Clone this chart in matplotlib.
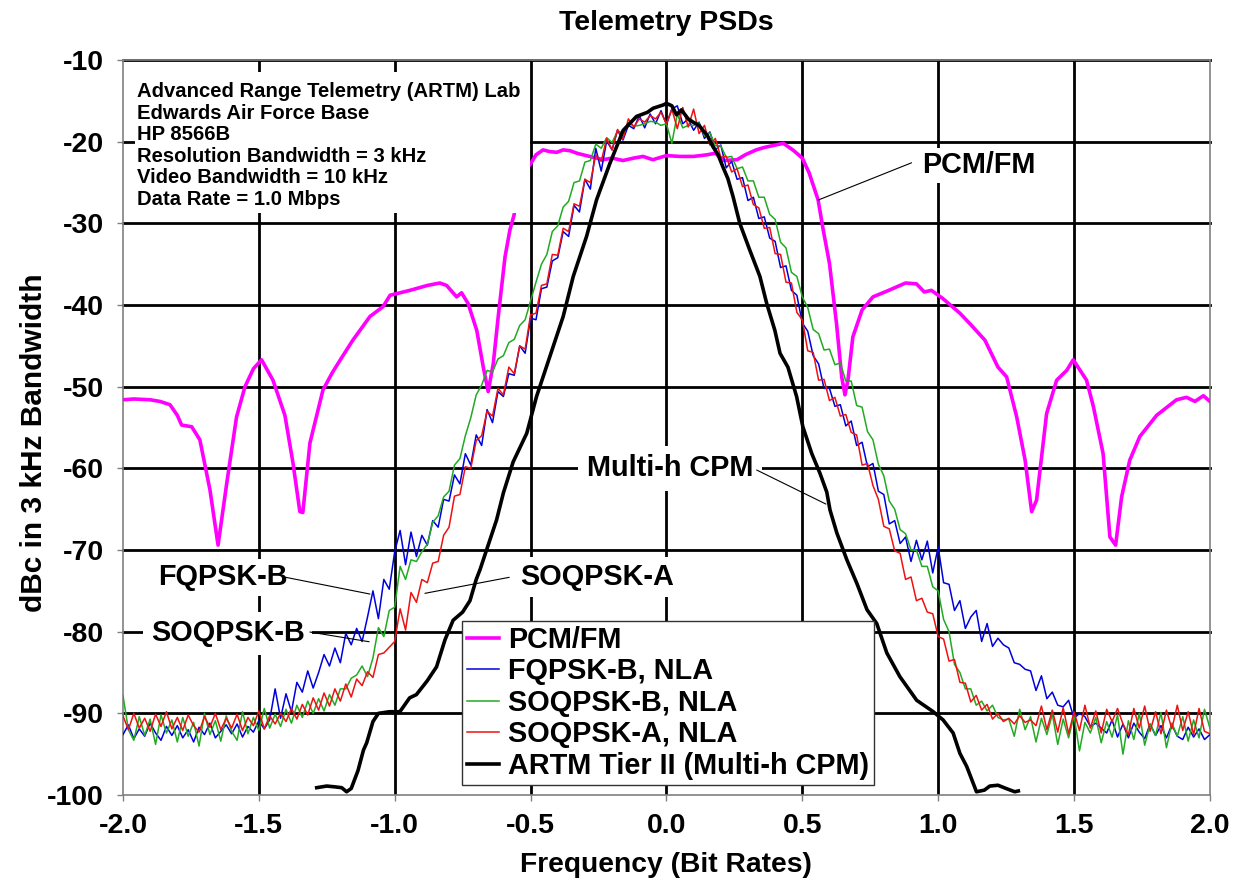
import numpy as np
import matplotlib
matplotlib.use('Agg')
import matplotlib.pyplot as plt
from matplotlib.ticker import FormatStrFormatter
from matplotlib.patches import Rectangle

plt.rcParams['font.family'] = ['Liberation Sans', 'DejaVu Sans']
plt.rcParams['font.weight'] = 'bold'
plt.rcParams['axes.unicode_minus'] = False

# ---------------- data ----------------
x_ticks = [-2.0, -1.5, -1.0, -0.5, 0.0, 0.5, 1.0, 1.5, 2.0]
y_ticks = [-100, -90, -80, -70, -60, -50, -40, -30, -20, -10]

# PCM/FM (measured trace, non-uniform sample points)
pcm_x = [-2.000, -1.960, -1.900, -1.864, -1.827, -1.800, -1.784, -1.747, -1.717, -1.680,
         -1.650, -1.618, -1.582, -1.551, -1.520, -1.490, -1.448, -1.404, -1.374, -1.349,
         -1.338, -1.312, -1.264, -1.230, -1.200, -1.154, -1.091, -1.043, -1.017, -0.944,
         -0.880, -0.834, -0.809, -0.772, -0.754, -0.730, -0.698, -0.674, -0.656, -0.637,
         -0.619, -0.594, -0.576, -0.561, -0.540, -0.520, -0.499, -0.480, -0.454, -0.430,
         -0.404, -0.380, -0.355, -0.330, -0.307, -0.270, -0.233, -0.200, -0.160, -0.120,
         -0.086, -0.050, 0.000, 0.050, 0.100, 0.150, 0.180, 0.210, 0.260, 0.290,
         0.330, 0.360, 0.430, 0.465, 0.500, 0.525, 0.558, 0.577, 0.600, 0.626,
         0.645, 0.657, 0.668, 0.686, 0.720, 0.760, 0.811, 0.880, 0.920, 0.949,
         0.975, 1.017, 1.080, 1.120, 1.172, 1.220, 1.252, 1.289, 1.320, 1.344,
         1.362, 1.399, 1.436, 1.473, 1.497, 1.546, 1.571, 1.607, 1.632, 1.653,
         1.675, 1.705, 1.742, 1.804, 1.877, 1.914, 1.945, 1.976, 2.000]
pcm_y = [-51.6, -51.5, -51.6, -51.8, -52.2, -53.5, -54.7, -54.9, -56.5, -62.6,
         -69.4, -61.8, -53.7, -50.0, -47.8, -46.7, -49.2, -53.5, -59.4, -65.3,
         -65.4, -56.9, -50.4, -48.3, -46.7, -44.3, -41.4, -40.2, -38.8, -38.2,
         -37.6, -37.3, -37.6, -39.0, -38.5, -39.8, -43.1, -47.6, -50.6, -47.1,
         -41.4, -34.1, -30.8, -29.0, -25.5, -23.5, -22.65, -21.6, -21.0, -21.2,
         -21.3, -21.0, -21.1, -21.4, -21.6, -21.9, -22.2, -22.0, -22.3, -22.0,
         -21.8, -22.2, -21.7, -21.8, -21.8, -21.6, -21.4, -22.3, -22.2, -21.6,
         -21.0, -20.7, -20.2, -21.0, -22.0, -23.8, -27.1, -30.8, -34.9, -42.3,
         -48.8, -51.0, -49.2, -43.9, -40.6, -39.0, -38.3, -37.3, -37.4, -38.4,
         -38.2, -39.2, -41.0, -42.4, -44.3, -47.6, -48.8, -53.7, -59.0, -65.3,
         -63.9, -53.3, -49.2, -48.0, -46.7, -49.2, -52.4, -58.2, -68.4, -69.4,
         -63.5, -59.0, -56.1, -53.5, -51.6, -51.3, -51.8, -51.1, -51.8]

# Noisy QPSK-type traces sampled every 0.02 bit rates from -2.0 to 2.0
freq = np.round(np.linspace(-2.0, 2.0, 201), 2)

fqpsk_b = [
    -92.6, -91.4, -93.1, -91.9, -92.8, -91.2, -92.4, -93.3, -91.6, -92.7,
    -91.5, -93.0, -92.0, -93.5, -91.7, -92.6, -91.2, -93.0, -92.2, -91.4,
    -92.5, -91.3, -92.9, -91.6, -92.3, -90.9, -91.9, -90.8, -87.0, -90.6,
    -87.6, -89.8, -86.2, -87.4, -84.8, -86.9, -85.0, -82.8, -84.2, -82.0,
    -83.8, -80.2, -81.6, -79.6, -81.2, -78.2, -75.0, -78.4, -73.6, -74.8,
    -70.2, -67.6, -71.8, -67.8, -70.8, -68.2, -69.4, -66.4, -67.2, -63.8,
    -64.0, -60.8, -61.9, -58.2, -59.6, -55.9, -57.2, -52.8, -54.4, -50.6,
    -51.2, -48.4, -48.6, -45.0, -45.9, -41.6, -41.8, -38.0, -37.8, -34.6,
    -34.2, -31.0, -31.6, -27.8, -28.6, -24.6, -25.8, -20.8, -23.6, -19.9,
    -21.0, -18.6, -19.8, -18.0, -18.4, -16.8, -18.3, -16.6, -17.8, -16.2,
    -17.9, -16.0, -15.6, -17.8, -17.2, -18.6, -17.6, -19.6, -18.8, -21.0,
    -20.4, -23.2, -22.4, -24.6, -24.4, -27.2, -26.8, -29.4, -29.2, -31.8,
    -32.2, -35.4, -35.2, -38.2, -38.8, -42.2, -43.2, -46.2, -47.2, -50.2,
    -50.2, -52.4, -52.2, -54.8, -54.2, -57.2, -56.8, -59.8, -59.4, -62.8,
    -63.2, -66.8, -66.4, -69.2, -68.4, -71.4, -68.8, -71.2, -68.9, -72.8,
    -69.6, -74.0, -74.2, -77.4, -76.2, -79.6, -78.2, -77.4, -81.2, -79.0,
    -81.8, -80.8, -81.6, -82.0, -83.8, -84.0, -84.6, -84.8, -87.2, -85.4,
    -88.2, -87.4, -89.0, -89.2, -88.4, -90.6, -90.0, -90.4, -91.6, -91.2,
    -91.8, -92.4, -90.8, -92.9, -91.3, -93.0, -91.2, -92.3, -93.1, -91.3,
    -92.7, -91.5, -93.0, -91.4, -92.8, -93.2, -91.7, -92.9, -91.9, -93.2,
    -92.6]

soqpsk_b = [
    -87.8, -92.0, -93.3, -90.4, -92.7, -90.7, -93.8, -90.2, -92.4, -90.8,
    -93.5, -90.5, -92.8, -91.1, -94.0, -90.0, -92.6, -90.9, -93.4, -90.3,
    -92.2, -93.3, -89.8, -92.5, -90.5, -92.1, -89.4, -91.8, -90.1, -91.6,
    -89.5, -91.2, -89.0, -90.5, -88.5, -90.0, -88.2, -89.7, -87.7, -89.0,
    -87.0, -87.0, -85.7, -85.3, -84.2, -85.5, -83.2, -79.5, -80.6, -77.4,
    -77.0, -72.0, -73.6, -71.2, -71.4, -70.2, -69.3, -66.6, -65.8, -63.5,
    -62.8, -59.6, -58.8, -56.0, -53.8, -51.0, -49.8, -48.0, -48.2, -46.6,
    -46.2, -44.6, -44.2, -42.5, -41.8, -39.5, -37.2, -35.0, -33.8, -31.0,
    -30.3, -28.0, -27.3, -25.0, -24.8, -22.5, -22.3, -20.3, -20.8, -19.5,
    -20.1, -18.7, -18.9, -17.7, -18.1, -18.0, -17.8, -17.5, -17.6, -18.0,
    -17.8, -20.2, -16.6, -18.3, -18.0, -18.0, -17.7, -19.3, -18.9, -20.5,
    -20.5, -21.9, -21.8, -23.3, -23.1, -24.8, -24.8, -26.8, -26.8, -28.9,
    -29.5, -32.3, -33.0, -36.0, -36.5, -39.0, -40.3, -43.0, -43.5, -45.5,
    -45.4, -47.3, -47.1, -49.3, -49.3, -52.3, -52.5, -55.5, -56.5, -59.5,
    -60.9, -64.0, -65.0, -67.5, -68.0, -70.0, -70.0, -72.0, -72.0, -74.5,
    -75.0, -78.5, -80.0, -84.0, -85.0, -87.0, -87.0, -89.0, -88.5, -89.7,
    -89.0, -90.5, -90.8, -90.7, -92.8, -89.5, -92.0, -90.4, -93.5, -90.6,
    -92.6, -90.1, -93.8, -90.7, -93.0, -90.3, -94.6, -91.1, -92.4, -90.5,
    -93.6, -91.0, -92.9, -90.2, -95.0, -90.9, -93.2, -90.0, -93.9, -91.3,
    -92.7, -89.9, -94.2, -91.2, -92.8, -90.4, -93.4, -90.8, -93.0, -89.5,
    -91.8]

soqpsk_a = [
    -90.3, -92.0, -90.0, -91.8, -90.6, -92.2, -90.1, -91.6, -89.8, -91.9,
    -90.5, -92.1, -90.2, -91.5, -92.3, -90.4, -91.7, -90.0, -92.0, -90.6,
    -91.8, -90.1, -92.1, -90.5, -91.5, -89.7, -91.9, -90.3, -91.3, -90.0,
    -91.0, -89.4, -90.7, -88.9, -90.2, -88.1, -89.6, -87.5, -89.1, -87.0,
    -88.5, -86.4, -88.0, -85.8, -86.6, -84.9, -85.6, -82.8, -82.6, -81.9,
    -81.2, -77.2, -79.8, -75.2, -76.4, -73.6, -74.0, -71.6, -71.4, -68.2,
    -67.2, -63.4, -63.2, -59.8, -60.0, -56.6, -56.0, -53.0, -53.6, -50.2,
    -51.0, -47.6, -48.4, -45.0, -45.4, -41.2, -41.0, -37.6, -37.4, -33.8,
    -33.9, -30.6, -31.0, -27.6, -27.9, -24.6, -25.0, -21.6, -22.4, -19.6,
    -21.0, -18.5, -19.7, -17.2, -18.2, -17.2, -17.6, -16.8, -17.2, -16.4,
    -17.8, -16.0, -18.4, -15.8, -18.2, -16.0, -19.0, -18.0, -20.4, -19.6,
    -21.9, -21.8, -23.7, -23.3, -25.5, -25.3, -27.7, -28.1, -30.6, -30.5,
    -33.7, -33.8, -37.2, -37.3, -40.9, -41.8, -45.6, -45.8, -49.2, -49.1,
    -51.7, -51.3, -53.6, -53.4, -55.6, -55.9, -59.6, -59.4, -62.1, -63.8,
    -67.1, -67.4, -70.1, -70.4, -73.6, -73.3, -76.2, -75.9, -77.6, -77.8,
    -80.6, -80.9, -83.6, -83.4, -86.2, -86.3, -88.6, -87.8, -89.6, -88.9,
    -90.7, -90.0, -91.0, -90.6, -91.3, -90.3, -91.1, -90.8, -91.5, -89.1,
    -92.0, -89.6, -92.3, -89.3, -92.5, -89.8, -92.1, -89.0, -91.8, -89.7,
    -92.4, -89.5, -91.0, -89.4, -91.3, -92.6, -89.4, -91.8, -89.1, -92.2,
    -89.8, -92.5, -89.6, -91.9, -89.0, -92.1, -89.8, -92.6, -89.4, -92.2,
    -92.5]

# ARTM Tier II (Multi-h CPM)
cpm_x = [-1.287, -1.250, -1.220, -1.195, -1.177, -1.160, -1.135, -1.115, -1.103, -1.080,
         -1.060, -1.020, -0.981, -0.945, -0.920, -0.880, -0.846, -0.815, -0.785, -0.750,
         -0.723, -0.700, -0.686, -0.662, -0.625, -0.600, -0.564, -0.514, -0.478, -0.429,
         -0.380, -0.343, -0.294, -0.257, -0.208, -0.159, -0.110, -0.070, -0.049, -0.012,
         0.000, 0.020, 0.037, 0.055, 0.080, 0.098, 0.120, 0.134, 0.150, 0.171,
         0.190, 0.208, 0.226, 0.245, 0.270, 0.307, 0.344, 0.369, 0.399, 0.418,
         0.447, 0.479, 0.502, 0.535, 0.565, 0.590, 0.602, 0.627, 0.664, 0.701,
         0.738, 0.774, 0.811, 0.859, 0.921, 0.982, 1.018, 1.055, 1.080, 1.105,
         1.141, 1.170, 1.190, 1.220, 1.250, 1.282, 1.295]
cpm_y = [-99.1, -98.9, -99.0, -99.1, -99.6, -99.2, -97.0, -94.5, -93.6, -91.0,
         -90.0, -89.8, -89.8, -88.1, -87.7, -86.0, -84.3, -81.0, -78.6, -77.6,
         -76.2, -73.6, -72.4, -70.0, -66.3, -63.0, -59.2, -55.7, -51.2, -46.3,
         -41.4, -36.5, -31.6, -27.1, -22.65, -18.6, -16.9, -16.4, -15.9, -15.5,
         -15.3, -15.6, -16.7, -16.1, -17.2, -17.6, -18.0, -18.6, -19.2, -20.6,
         -21.6, -23.1, -24.5, -26.7, -30.0, -33.3, -36.5, -39.8, -43.1, -45.9,
         -47.6, -51.2, -54.9, -58.2, -60.6, -62.9, -65.1, -67.9, -71.2, -74.1,
         -77.3, -79.0, -82.6, -85.5, -88.4, -89.8, -90.8, -92.4, -94.9, -96.5,
         -99.6, -99.4, -98.9, -98.8, -99.2, -99.6, -99.5]

series_labels = ['PCM/FM', 'FQPSK-B, NLA', 'SOQPSK-B, NLA', 'SOQPSK-A, NLA',
                 'ARTM Tier II (Multi-h CPM)']
info_lines = ['Advanced Range Telemetry (ARTM) Lab', 'Edwards Air Force Base', 'HP 8566B',
              'Resolution Bandwidth = 3 kHz', 'Video Bandwidth = 10 kHz', 'Data Rate = 1.0 Mbps']

# ---------------- figure ----------------
fig = plt.figure(figsize=(12.37, 8.82), dpi=100)
ax = fig.add_axes([0.0994, 0.0986, 0.8787, 0.8333])
ax.set_xlim(-2.0, 2.0)
ax.set_ylim(-100, -10)

# grid (Excel style: interior lines + top line)
for yv in y_ticks[1:]:
    ax.axhline(yv, color='black', lw=2.0, zorder=1, clip_on=False)
for xv in x_ticks[1:-1]:
    ax.axvline(xv, color='black', lw=2.0, zorder=1)

ax.plot(pcm_x, pcm_y, color='#FF00FF', lw=2.6, zorder=3, label=series_labels[0],
        solid_joinstyle='round')
ax.plot(freq, fqpsk_b, color='#0000DD', lw=1.1, zorder=4, label=series_labels[1])
ax.plot(freq, soqpsk_b, color='#22AA22', lw=1.1, zorder=5, label=series_labels[2])
ax.plot(freq, soqpsk_a, color='#EE1111', lw=1.1, zorder=6, label=series_labels[3])
ax.plot(cpm_x, cpm_y, color='black', lw=2.6, zorder=7, label=series_labels[4],
        solid_joinstyle='round')

ax.set_xticks(x_ticks)
ax.set_yticks(y_ticks)
ax.xaxis.set_major_formatter(FormatStrFormatter('%.1f'))
ax.tick_params(direction='out', length=4, width=1, color='#808080', labelsize=20.5)
ax.tick_params(axis='x', pad=9)
ax.tick_params(axis='y', pad=10)
for lab in ax.get_xticklabels() + ax.get_yticklabels():
    lab.set_fontweight('bold')
for sp in ax.spines.values():
    sp.set_color('#808080')
    sp.set_linewidth(1.2)
    sp.set_zorder(2)

ax.set_title('Telemetry PSDs', fontsize=20.5, fontweight='bold', pad=22)
ax.set_xlabel('Frequency (Bit Rates)', fontsize=20.3, fontweight='bold', labelpad=9)
ax.set_ylabel('dBc in 3 kHz Bandwidth', fontsize=21.5, fontweight='bold')
ax.yaxis.set_label_coords(-0.069, 0.48)

# info box (white, covers grid and part of the PCM/FM trace)
ax.add_patch(Rectangle((-1.956, -28.73), 1.454, 17.26, facecolor='white',
                       edgecolor='none', zorder=8))
ax.text(-1.948, -20.47, '\n'.join(info_lines), fontsize=14.6, fontweight='bold',
        ha='left', va='center', linespacing=1.17, zorder=9)

# callout labels: text, position, leader start, leader end, box pad
labels = [
    ('PCM/FM', (0.940, -22.86), (0.902, -22.58), (0.5586, -27.14), 0.12),
    ('Multi-h CPM', (-0.2937, -60.0), (0.332, -60.2), (0.587, -64.37), 0.3),
    ('SOQPSK-A', (-0.539, -73.27), (-0.5785, -73.34), (-0.8887, -75.3), 0.2),
    ('FQPSK-B', (-1.870, -73.34), (-1.401, -73.34), (-1.091, -75.39), 0.15),
    ('SOQPSK-B', (-1.898, -80.2), (-1.312, -80.04), (-1.094, -81.23), 0.25),
]
for txt, tpos, lstart, lend, pad in labels:
    ax.text(tpos[0], tpos[1], txt, fontsize=20.8, fontweight='bold', ha='left',
            va='center', zorder=9,
            bbox=dict(boxstyle='square,pad=%.2f' % pad, fc='white', ec='none'))
    ax.annotate('', xy=lend, xytext=lstart,
                arrowprops=dict(arrowstyle='-', color='black', lw=0.8,
                                shrinkA=0, shrinkB=0), zorder=9)

leg = ax.legend(loc='lower left', bbox_to_anchor=(0.312, 0.0136), borderaxespad=0,
                handlelength=1.1, handletextpad=0.3, labelspacing=0.12,
                borderpad=0.18, fancybox=False, framealpha=1, edgecolor='#333333',
                prop={'weight': 'bold', 'size': 20.8})
leg.get_frame().set_linewidth(1.0)
leg.set_zorder(10)

fig.savefig('out.png', dpi=100)
